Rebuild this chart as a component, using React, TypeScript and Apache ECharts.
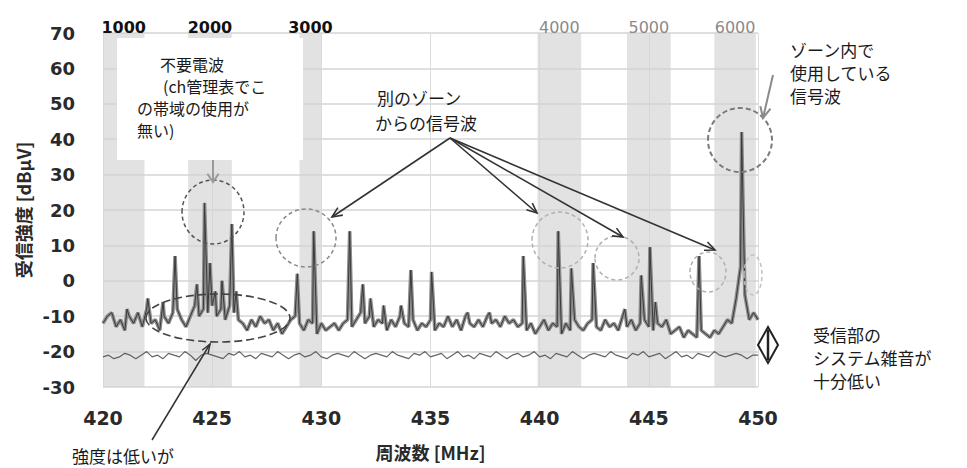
import React, { useEffect, useRef } from "react";
import * as echarts from "echarts";

// ---- data ----
const xTicks = [420, 425, 430, 435, 440, 445, 450];
const yMin = -30;
const yMax = 70;

// main received trace, sampled every 0.2 MHz from 420.0
const baseStart = 420.0;
const baseStep = 0.2;
const baseline = [
  -12, -10, -9, -13, -11,
  -14, -10, -12, -9, -13,
  -8, -12, -11, -14, -10,
  -12, -9, -8, -11, -13,
  -10, -7, -10, -8, -9,
  -7, -10, -8, -11, -7,
  -9, -11, -12, -14, -11,
  -13, -10, -12, -11, -14,
  -12, -15, -13, -11, -10,
  -12, -14, -11, -12, -15,
  -12, -14, -13, -12, -14,
  -12, -11, -13, -11, -9,
  -12, -10, -13, -11, -12,
  -14, -11, -13, -10, -12,
  -13, -11, -14, -12, -13,
  -11, -14, -12, -13, -10,
  -13, -11, -14, -10, -12,
  -13, -11, -13, -10, -12,
  -11, -13, -10, -12, -11,
  -13, -12, -14, -12, -15,
  -13, -11, -14, -12, -13,
  -15, -12, -14, -11, -13,
  -14, -12, -11, -13, -14,
  -11, -13, -12, -14, -10,
  -13, -11, -14, -12, -11,
  -13, -14, -12, -13, -11,
  -15, -14, -13, -16, -14,
  -15, -16, -14, -15, -16,
  -14, -15, -13, -11, -12,
  -5, 4, -4, -11, -9,
  -11,
];

// narrow spikes [MHz, dBµV]
const peaks: [number, number][] = [
  [421.1, -8], [422.05, -5], [422.75, -6], [423.3, 7], [424.3, -1],
  [424.65, 22], [424.9, 5], [425.15, -3], [425.45, 0], [425.9, 16],
  [426.1, -3], [428.9, 2], [429.65, 14], [431.3, 14], [431.9, -1],
  [432.25, -5], [432.85, -7], [433.65, -7], [434.1, 3], [435.05, 2.5],
  [436.7, -9], [437.7, -9], [439.25, 7], [440.85, 14], [441.45, 3.5],
  [442.45, 5], [443.9, -8], [444.65, 1.5], [445.05, 9.5], [445.3, -6],
  [447.3, 7], [449.25, 42],
];

// receiver system noise floor, every 0.25 MHz from 420.0
const floorStart = 420.0;
const floorStep = 0.25;
const noiseFloor = [
  -21.5, -21, -22, -21.5, -20.5, -21, -22, -21, -20, -21.5,
  -21, -22, -20.5, -21, -21.5, -20, -21, -22.5, -21, -20.5,
  -21, -21.5, -22, -20.5, -21, -20, -21.5, -21, -22, -20.5,
  -21, -21.5, -20, -21, -22, -21, -20.5, -21.5, -21, -20,
  -21.5, -22, -21, -20.5, -21, -21.5, -20, -21, -22, -21,
  -20.5, -21, -21.5, -20, -21, -21.5, -22, -20.5, -21, -20,
  -21.5, -21, -20.5, -22, -21, -20, -21.5, -21, -22, -20.5,
  -21, -21.5, -20, -21, -22, -21, -20.5, -21.5, -21, -20,
  -21.5, -21, -22, -20.5, -21, -21.5, -20, -21, -22, -21,
  -20.5, -21, -21.5, -20, -21, -21.5, -22, -20.5, -21, -20,
  -21.5, -21, -20.5, -22, -21, -20, -21.5, -21, -22, -20.5,
  -21, -21.5, -20, -21, -21.5, -21, -20.5, -21, -22, -21,
  -21,
];

// channel zones (shaded bands) and their labels
const zoneNames = ["1000", "2000", "3000", "4000", "5000", "6000"];
const zoneStart = [420.0, 423.9, 429.0, 439.9, 444.0, 448.0];
const zoneEnd = [421.9, 425.9, 430.0, 441.9, 446.0, 449.9];

const CJK = "'Noto Sans CJK JP', 'Noto Sans', sans-serif";
const NUM = "'DejaVu Sans', sans-serif";

function r2(v: number) {
  return Math.round(v * 100) / 100;
}

function arrow(
  fx: number, fy: number, tx: number, ty: number,
  color: string, width: number, head = 11, spread = 0.42
): any[] {
  const a = Math.atan2(ty - fy, tx - fx);
  const p1 = [tx - head * Math.cos(a - spread), ty - head * Math.sin(a - spread)];
  const p2 = [tx - head * Math.cos(a + spread), ty - head * Math.sin(a + spread)];
  return [
    { type: "line", z: 20, shape: { x1: fx, y1: fy, x2: tx, y2: ty }, style: { stroke: color, lineWidth: width } },
    { type: "polyline", z: 20, shape: { points: [p1, [tx, ty], p2] }, style: { stroke: color, lineWidth: width, fill: null } },
  ];
}

function txt(text: string, x: number, y: number, size = 17, color = "#1a1a1a"): any {
  return {
    type: "text",
    z: 21,
    style: { text, x, y, fill: color, font: `${size}px ${CJK}`, verticalAlign: "middle", align: "left" },
  };
}

function dashedEllipse(cx: number, cy: number, rx: number, ry: number, color: string, w = 1.5, dash = [4, 3]): any {
  return {
    type: "ellipse",
    z: 19,
    shape: { cx, cy, rx, ry },
    style: { fill: null, stroke: color, lineWidth: w, lineDash: dash },
  };
}

export default function App() {
  const ref = useRef<HTMLDivElement>(null);

  useEffect(() => {
    if (!ref.current) return;
    const chart = echarts.init(ref.current, null, { renderer: "svg" });

    const trace: [number, number][] = baseline
      .map((v, i) => [r2(baseStart + i * baseStep), v] as [number, number])
      .concat(peaks)
      .sort((a, b) => a[0] - b[0]);
    const floorData = noiseFloor.map((v, i) => [r2(floorStart + i * floorStep), v]);

    const bands = zoneNames.map((n, i) => [
      {
        xAxis: zoneStart[i],
        name: n,
        label: {
          color: i < 3 ? "#111" : "#8a8a8a",
          fontWeight: i < 3 ? "bold" : "normal",
        },
      },
      { xAxis: zoneEnd[i] },
    ]);

    const graphics: any[] = [
      // white callout box
      { type: "rect", z: 10, shape: { x: 117, y: 38, width: 186, height: 122 }, style: { fill: "#ffffff" } },
      txt("不要電波", 160, 64, 16),
      txt("(ch管理表でこ", 163, 86, 16),
      txt("の帯域の使用が", 137, 108, 16),
      txt("無い)", 137, 130, 16),
      txt("別のゾーン", 377, 97),
      txt("からの信号波", 375, 122),
      txt("ゾーン内で", 790, 49),
      txt("使用している", 790, 72),
      txt("信号波", 790, 95),
      txt("受信部の", 813, 334),
      txt("システム雑音が", 813, 357),
      txt("十分低い", 813, 380),
      txt("強度は低いが", 72, 455),
      // dashed circles / ellipses
      dashedEllipse(213, 212, 31, 32, "#555"),
      dashedEllipse(218, 318, 72, 24, "#444", 1.6, [8, 4]),
      dashedEllipse(306, 238, 30, 29, "#8a8a8a"),
      dashedEllipse(560, 240, 28, 28, "#b0b0b0"),
      dashedEllipse(617, 258, 22, 22, "#b0b0b0"),
      dashedEllipse(708, 272, 18, 20, "#b0b0b0"),
      dashedEllipse(740, 140, 32, 32, "#7a7a7a", 2, [5, 3]),
      dashedEllipse(753, 275, 9, 20, "#c0c0c0"),
      // noise-margin marker
      {
        type: "polygon",
        z: 20,
        shape: { points: [[768, 327], [778, 345], [768, 363], [758, 345]] },
        style: { fill: "#fff", stroke: "#222", lineWidth: 2 },
      },
      { type: "line", z: 21, shape: { x1: 768, y1: 330, x2: 768, y2: 360 }, style: { stroke: "#222", lineWidth: 2.5 } },
    ];
    graphics.push(...arrow(213, 160, 213, 182, "#9a9a9a", 2, 10, 0.6));
    graphics.push(...arrow(152, 440, 210, 344, "#333", 1.5, 10, 0.35));
    graphics.push(...arrow(450, 138, 332, 217, "#333", 1.6));
    graphics.push(...arrow(450, 138, 537, 213, "#333", 1.6));
    graphics.push(...arrow(450, 138, 623, 237, "#333", 1.6));
    graphics.push(...arrow(450, 138, 715, 250, "#333", 1.6));
    graphics.push(...arrow(773, 75, 763, 118, "#8a8a8a", 2, 12, 0.45));

    chart.setOption({
      animation: false,
      textStyle: { fontFamily: CJK },
      grid: { left: 103, top: 33, width: 655, height: 354 },
      xAxis: {
        type: "value",
        min: xTicks[0],
        max: xTicks[xTicks.length - 1],
        interval: 5,
        name: "周波数 [MHz]",
        nameLocation: "middle",
        nameGap: 56,
        nameTextStyle: { fontSize: 18, fontWeight: "bold", color: "#2a2a2a", fontFamily: CJK },
        axisLine: { show: false },
        axisTick: { show: false },
        axisLabel: { fontSize: 19, fontWeight: "bold", color: "#2a2a2a", margin: 21, fontFamily: NUM },
        splitLine: { show: true, lineStyle: { color: "#dcdcdc", width: 1 } },
      },
      yAxis: {
        type: "value",
        min: yMin,
        max: yMax,
        interval: 10,
        name: "受信強度 [dBμV]",
        nameLocation: "middle",
        nameRotate: 90,
        nameGap: 70,
        nameTextStyle: { fontSize: 18, fontWeight: "bold", color: "#2a2a2a", fontFamily: CJK },
        axisLine: { show: false },
        axisTick: { show: false },
        axisLabel: { fontSize: 18, fontWeight: "bold", color: "#2a2a2a", margin: 28, fontFamily: NUM },
        splitLine: { show: true, lineStyle: { color: "#d4d4d4", width: 1.5 } },
      },
      series: [
        {
          name: "trace-halo",
          type: "line",
          data: trace,
          symbol: "none",
          silent: true,
          z: 3,
          lineStyle: { color: "#8c8c8c", width: 3.6 },
          markArea: {
            silent: true,
            itemStyle: { color: "#d2d2d2", opacity: 0.65 },
            label: { show: true, position: "top", distance: -2, fontSize: 16, fontFamily: NUM },
            data: bands,
          },
        },
        {
          name: "trace",
          type: "line",
          data: trace,
          symbol: "none",
          z: 4,
          lineStyle: { color: "#3a3a3a", width: 1 },
        },
        {
          name: "noise-floor",
          type: "line",
          data: floorData,
          symbol: "none",
          z: 4,
          lineStyle: { color: "#4a4a4a", width: 1.2, opacity: 0.85 },
        },
      ],
      graphic: graphics,
    });

    return () => chart.dispose();
  }, []);

  return (
    <div
      ref={ref}
      style={{ position: "absolute", left: 0, top: 0, width: 967, height: 468, background: "#fff" }}
    />
  );
}
